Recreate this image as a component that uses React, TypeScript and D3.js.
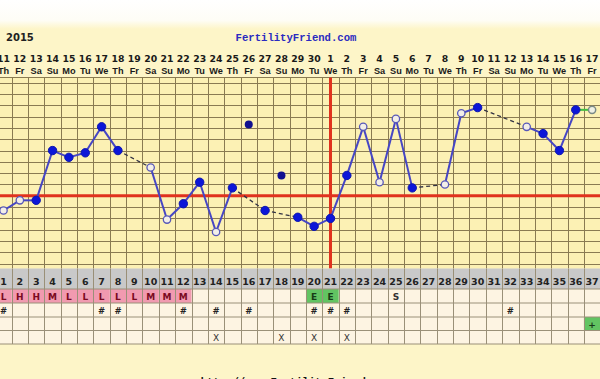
import React from "react";
import * as d3 from "d3";

const W = 600;
const H = 379;

const cycleDays = d3.range(1, 38);
const dateLabels = [
  "11","12","13","14","15","16","17","18","19","20","21","22","23","24","25","26","27","28","29","30",
  "1","2","3","4","5","6","7","8","9","10","11","12","13","14","15","16","17",
];
const dowLabels = [
  "Th","Fr","Sa","Su","Mo","Tu","We","Th","Fr","Sa","Su","Mo","Tu","We","Th","Fr","Sa","Su","Mo","Tu",
  "We","Th","Fr","Sa","Su","Mo","Tu","We","Th","Fr","Sa","Su","Mo","Tu","We","Th","Fr",
];
// temperatures (°F); null = no reading
const temps: (number | null)[] = [
  97.47, 97.56, 97.56, 98.0, 97.94, 97.98, 98.21, 98.0, null, 97.85,
  97.39, 97.53, 97.72, 97.28, 97.67, 98.23, 97.47, 97.78, 97.41, 97.33,
  97.4, 97.78, 98.21, 97.72, 98.28, 97.67, null, 97.7, 98.33, 98.38,
  null, null, 98.21, 98.15, 98.0, 98.36, 98.36,
];
// f = filled, o = open, d = discarded, g = projected
const markers = [
  "o","o","f","f","f","f","f","f","","o",
  "o","f","f","o","f","d","f","d","f","f",
  "f","f","o","o","o","f","","o","o","f",
  "","","o","f","f","f","g",
];
const coverline = 97.6;
const ovulationDay = 21;
const gridTemps = d3.range(0, 17).map((k) => +(98.6 - k * 0.1).toFixed(1));

const cmRow = [
  "L","H","H","M","L","L","L","L","L","M","M","M","","","","","","","","E",
  "E","","","","S","","","","","","","","","","","","",
];
const hashDays = [1, 7, 8, 12, 14, 16, 20, 21, 22, 32];
const plusDays = [37];
const xDays = [14, 18, 20, 22];

const x = d3.scaleLinear().domain([1, 37]).range([3.5, 592.1]);
const y = d3.scaleLinear().domain([98.6, 97.6]).range([82.7, 195.8]);
const colW = x(2) - x(1);

const gridTop = 77.5;
const gridBottom = 268.5;
const rows = [
  { y0: 268.5, y1: 289 },
  { y0: 289, y1: 303 },
  { y0: 303, y1: 317 },
  { y0: 317, y1: 330.5 },
  { y0: 330.5, y1: 344 },
];

const numFont = "'DejaVu Sans', Verdana, sans-serif";
const txtFont = "'Liberation Sans', Arial, sans-serif";
const monoFont = "'Liberation Mono', 'Courier New', monospace";

export default function App() {
  const pts = cycleDays
    .map((d, i) => ({ d, t: temps[i], m: markers[i] }))
    .filter((p) => p.t !== null && p.m !== "") as { d: number; t: number; m: string }[];
  const valid = pts.filter((p) => p.m !== "d");
  const segs: { a: any; b: any; kind: string }[] = [];
  for (let i = 1; i < valid.length; i++) {
    const a = valid[i - 1];
    const b = valid[i];
    const kind = b.m === "g" ? "green" : b.d - a.d === 1 ? "solid" : "dash";
    segs.push({ a, b, kind });
  }
  const boundaries = d3.range(0, 38).map((k) => x(1) - colW / 2 + k * colW);

  return (
    <svg
      width={W}
      height={H}
      style={{ position: "absolute", left: 0, top: 0, display: "block" }}
    >
      <defs>
        <linearGradient id="topfade" x1="0" y1="0" x2="0" y2="1">
          <stop offset="0" stopColor="#ffffff" />
          <stop offset="0.7" stopColor="#fefdf6" />
          <stop offset="1" stopColor="#fdf5c8" />
        </linearGradient>
      </defs>
      <rect x={0} y={0} width={W} height={H} fill="#fdf5c8" />
      <rect x={0} y={0} width={W} height={29} fill="url(#topfade)" />

      {/* header */}
      <text x={6} y={41} fontFamily={numFont} fontWeight="bold" fontSize={10} fill="#222">
        2015
      </text>
      <text
        x={296}
        y={41}
        textAnchor="middle"
        fontFamily={monoFont}
        fontWeight="bold"
        fontSize={10.6}
        fill="#2b2bc0"
      >
        FertilityFriend.com
      </text>
      {cycleDays.map((d, i) => (
        <g key={"lab" + d}>
          <text x={x(d)} y={62} textAnchor="middle" fontFamily={numFont} fontWeight="bold" fontSize={9.3} fill="#1a1a1a">
            {dateLabels[i]}
          </text>
          <text x={x(d)} y={74} textAnchor="middle" fontFamily={txtFont} fontWeight="bold" fontSize={9.2} fill="#1a1a1a">
            {dowLabels[i]}
          </text>
        </g>
      ))}

      {/* grid */}
      <rect x={-2} y={gridTop} width={W + 4} height={gridBottom - gridTop} fill="#fcf1b4" />
      {gridTemps.map((t) => (
        <line key={"h" + t} x1={0} x2={W} y1={Math.round(y(t)) + 0.5} y2={Math.round(y(t)) + 0.5} stroke="#8a7b52" strokeWidth={1} />
      ))}
      <line x1={0} x2={W} y1={gridTop} y2={gridTop} stroke="#8a7b52" strokeWidth={1} />
      {boundaries.map((bx, k) => (
        <line key={"v" + k} x1={Math.round(bx) + 0.5} x2={Math.round(bx) + 0.5} y1={gridTop} y2={gridBottom} stroke="#8a7b52" strokeWidth={1} />
      ))}

      {/* coverline & ovulation */}
      <line x1={0} x2={W} y1={y(coverline)} y2={y(coverline)} stroke="#e0321e" strokeWidth={3} />
      <line x1={x(ovulationDay)} x2={x(ovulationDay)} y1={gridTop} y2={gridBottom} stroke="#e0321e" strokeWidth={3} />

      {/* lines */}
      {segs.map((s, i) => (
        <line
          key={"s" + i}
          x1={x(s.a.d)}
          y1={y(s.a.t)}
          x2={x(s.b.d)}
          y2={y(s.b.t)}
          stroke={s.kind === "green" ? "#3fbf3f" : s.kind === "dash" ? "#333344" : "#4646c4"}
          strokeWidth={s.kind === "dash" ? 1.3 : 2}
          strokeDasharray={s.kind === "dash" ? "4,3" : undefined}
        />
      ))}
      {/* points */}
      {pts.map((p) => {
        const cx = x(p.d);
        const cy = y(p.t);
        if (p.m === "f")
          return <circle key={"p" + p.d} cx={cx} cy={cy} r={4.2} fill="#0c16d8" stroke="#0c16b0" strokeWidth={1} />;
        if (p.m === "d")
          return <circle key={"p" + p.d} cx={cx} cy={cy} r={4} fill="#101090" />;
        if (p.m === "g")
          return <circle key={"p" + p.d} cx={cx} cy={cy} r={3.6} fill="#eef0e4" stroke="#7a8a86" strokeWidth={1.5} />;
        return <circle key={"p" + p.d} cx={cx} cy={cy} r={3.7} fill="#f2eee8" stroke="#5858b8" strokeWidth={1.3} />;
      })}

      {/* table */}
      <rect x={-2} y={rows[0].y0} width={W + 4} height={rows[0].y1 - rows[0].y0} fill="#c9c9c9" />
      <rect x={-2} y={rows[1].y0} width={W + 4} height={rows[4].y1 - rows[1].y0} fill="#fdf4e2" />
      {cmRow.map((c, i) =>
        c === "L" || c === "H" || c === "M" || c === "E" ? (
          <rect
            key={"cmbg" + i}
            x={boundaries[i]}
            y={rows[1].y0}
            width={colW}
            height={rows[1].y1 - rows[1].y0}
            fill={c === "E" ? "#62c462" : "#f19ab0"}
          />
        ) : null
      )}
      {plusDays.map((d) => (
        <rect key={"plbg" + d} x={boundaries[d - 1]} y={rows[3].y0} width={colW} height={rows[3].y1 - rows[3].y0} fill="#62c462" />
      ))}
      {rows.map((r, k) => (
        <line key={"rl" + k} x1={0} x2={W} y1={r.y1} y2={r.y1} stroke="#9a9078" strokeWidth={1} />
      ))}
      {boundaries.map((bx, k) => (
        <line key={"tv" + k} x1={Math.round(bx) + 0.5} x2={Math.round(bx) + 0.5} y1={rows[0].y0} y2={rows[4].y1} stroke="#9a9078" strokeWidth={1} />
      ))}
      {cycleDays.map((d) => (
        <text key={"cd" + d} x={x(d)} y={285} textAnchor="middle" fontFamily={numFont} fontWeight="bold" fontSize={9.5} fill="#222">
          {d}
        </text>
      ))}
      {cmRow.map((c, i) =>
        c ? (
          <text
            key={"cm" + i}
            x={x(i + 1)}
            y={300}
            textAnchor="middle"
            fontFamily={numFont}
            fontWeight="bold"
            fontSize={9}
            fill={c === "E" ? "#173d17" : c === "S" ? "#333" : "#7a0a22"}
          >
            {c}
          </text>
        ) : null
      )}
      {hashDays.map((d) => (
        <text key={"hs" + d} x={x(d)} y={314} textAnchor="middle" fontFamily={numFont} fontWeight="bold" fontSize={8.5} fill="#222">
          #
        </text>
      ))}
      {plusDays.map((d) => (
        <text key={"pl" + d} x={x(d)} y={327.5} textAnchor="middle" fontFamily={numFont} fontWeight="bold" fontSize={9} fill="#1a3a1a">
          +
        </text>
      ))}
      {xDays.map((d) => (
        <text key={"xx" + d} x={x(d)} y={341} textAnchor="middle" fontFamily={numFont} fontSize={9} fill="#333">
          X
        </text>
      ))}

      <text x={296} y={384.5} textAnchor="middle" fontFamily={monoFont} fontWeight="bold" fontSize={10.6} fill="#111">
        http://www.FertilityFriend.com
      </text>
    </svg>
  );
}
